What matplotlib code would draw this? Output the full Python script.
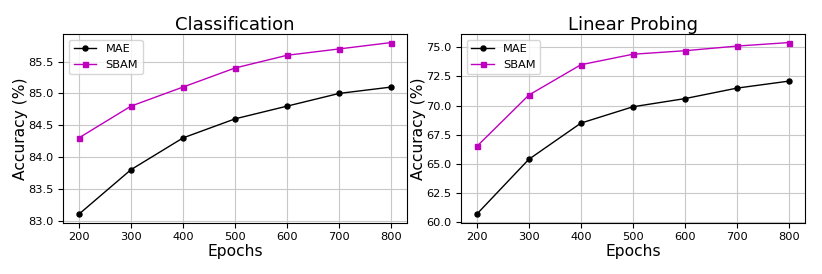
import numpy as np
import matplotlib
matplotlib.use('Agg')
import matplotlib.pyplot as plt
from matplotlib.ticker import FormatStrFormatter

epochs = [200, 300, 400, 500, 600, 700, 800]

cls_mae = [83.1, 83.8, 84.3, 84.6, 84.8, 85.0, 85.1]
cls_sbam = [84.3, 84.8, 85.1, 85.4, 85.6, 85.7, 85.8]

lp_mae = [60.7, 65.4, 68.5, 69.9, 70.6, 71.5, 72.1]
lp_sbam = [66.5, 70.9, 73.5, 74.4, 74.7, 75.1, 75.4]

titles = ['Classification', 'Linear Probing']
series = [(cls_mae, cls_sbam), (lp_mae, lp_sbam)]

fig, axes = plt.subplots(1, 2, figsize=(8.22, 2.74), dpi=100)
fig.subplots_adjust(left=0.077, right=0.979, bottom=0.187, top=0.876, wspace=0.158)

for ax, title, (mae, sbam) in zip(axes, titles, series):
    ax.plot(epochs, mae, 'k-o', markersize=3.6, linewidth=1, label='MAE')
    ax.plot(epochs, sbam, 'm-s', markersize=3.6, linewidth=1, label='SBAM')
    ax.set_title(title, fontsize=13, pad=3)
    ax.set_xlabel('Epochs', fontsize=11.2, labelpad=1)
    ax.set_ylabel('Accuracy (%)', fontsize=11.2, labelpad=0)
    ax.set_xticks(epochs)
    ax.tick_params(labelsize=8.2)
    ax.grid(True, color='#c8c8c8', linewidth=0.8)
    ax.legend(loc='upper left', fontsize=8.2)
    ax.yaxis.set_major_formatter(FormatStrFormatter('%.1f'))

fig.savefig('out.png', dpi=100)
